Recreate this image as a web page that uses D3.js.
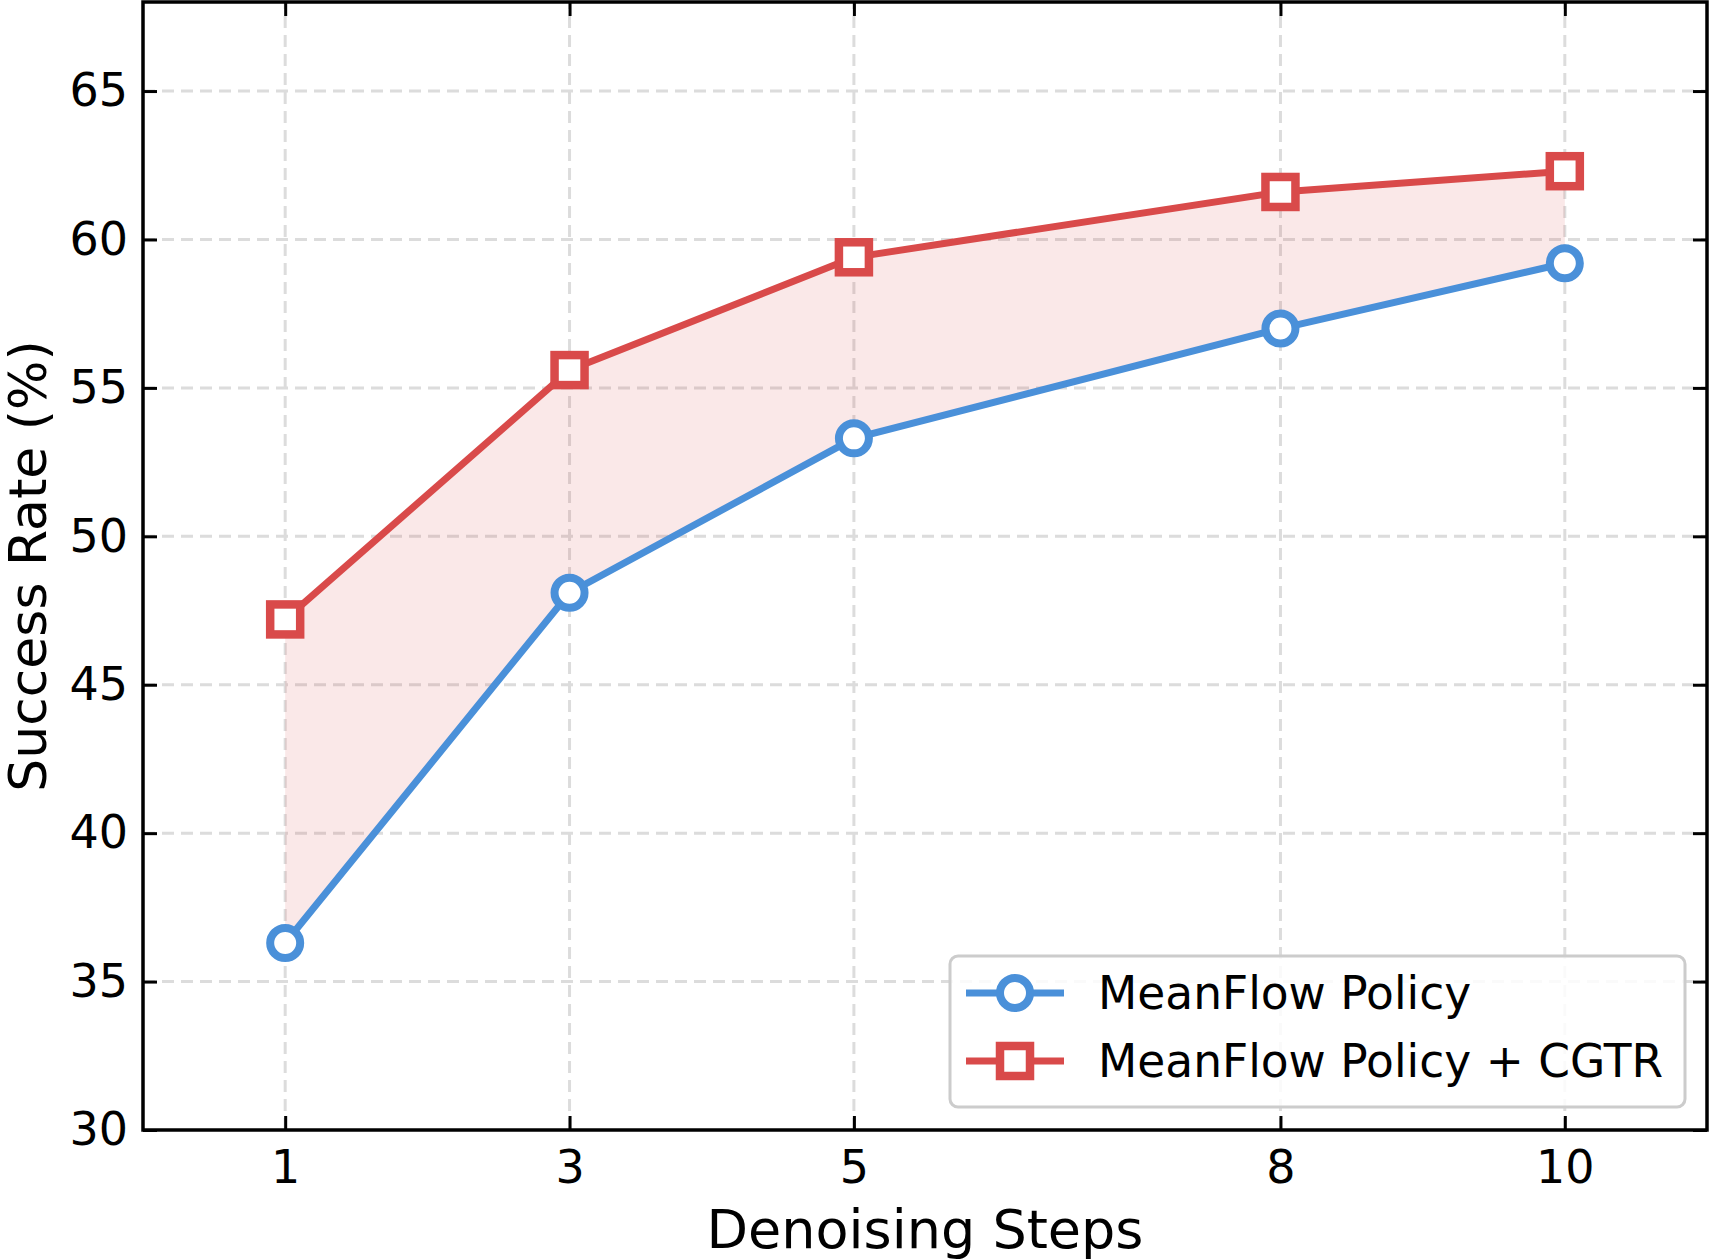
<!DOCTYPE html>
<html>
<head>
<meta charset="utf-8">
<script src="https://cdn.jsdelivr.net/npm/d3@7"></script>
<style>
  body { margin: 0; background: #fff; }
  svg { display: block; font-family: "DejaVu Sans", sans-serif; }
</style>
</head>
<body>
<div id="chart"></div>
<script>
// data
var steps = [1, 3, 5, 8, 10];
var baseRates = [36.3, 48.1, 53.3, 57.0, 59.2];
var cgtrRates = [47.2, 55.6, 59.4, 61.6, 62.3];
var yTicks = [30, 35, 40, 45, 50, 55, 60, 65];
var seriesNames = ['MeanFlow Policy', 'MeanFlow Policy + CGTR'];

var width = 1710, height = 1260;
var margin = {left: 143, right: 3, top: 2, bottom: 130};
var blue = '#4a90d9', red = '#d94a4a';

var svg = d3.select('#chart').append('svg')
  .attr('width', width)
  .attr('height', height);

var x = d3.scaleLinear().domain([0, 11]).range([margin.left, width - margin.right]);
var y = d3.scaleLinear().domain([30, 68]).range([height - margin.bottom, margin.top]);

var rows = steps.map(function(s, i) { return {x: s, a: baseRates[i], b: cgtrRates[i]}; });

// grid
var grid = svg.append('g')
  .attr('stroke', '#dcdcdc')
  .attr('stroke-width', 3)
  .attr('stroke-dasharray', '12,7');
grid.selectAll('.gx').data(steps).enter().append('line')
  .attr('x1', function(d) { return x(d); }).attr('x2', function(d) { return x(d); })
  .attr('y1', y.range()[0]).attr('y2', y.range()[1]);
grid.selectAll('.gy').data(yTicks.slice(1)).enter().append('line')
  .attr('y1', function(d) { return y(d); }).attr('y2', function(d) { return y(d); })
  .attr('x1', x.range()[0]).attr('x2', x.range()[1]);

// shaded gap between the two runs
var area = d3.area()
  .x(function(d) { return x(d.x); })
  .y0(function(d) { return y(d.a); })
  .y1(function(d) { return y(d.b); });
svg.append('path').datum(rows)
  .attr('d', area)
  .attr('fill', red)
  .attr('fill-opacity', 0.13);

function drawSeries(key, color, shape) {
  var line = d3.line()
    .x(function(d) { return x(d.x); })
    .y(function(d) { return y(d[key]); });
  svg.append('path').datum(rows)
    .attr('d', line)
    .attr('fill', 'none')
    .attr('stroke', color)
    .attr('stroke-width', 7);
  var g = svg.append('g');
  if (shape === 'circle') {
    g.selectAll('circle').data(rows).enter().append('circle')
      .attr('cx', function(d) { return x(d.x); })
      .attr('cy', function(d) { return y(d[key]); })
      .attr('r', 15)
      .attr('fill', '#fff')
      .attr('stroke', color)
      .attr('stroke-width', 8);
  } else {
    g.selectAll('rect').data(rows).enter().append('rect')
      .attr('x', function(d) { return x(d.x) - 15; })
      .attr('y', function(d) { return y(d[key]) - 15; })
      .attr('width', 30).attr('height', 30)
      .attr('fill', '#fff')
      .attr('stroke', color)
      .attr('stroke-width', 8.5);
  }
}
drawSeries('a', blue, 'circle');
drawSeries('b', red, 'square');

// axes, ticks pointing inward on all four sides
var tickLen = 14;
var axB = svg.append('g').attr('transform', 'translate(0,' + y.range()[0] + ')')
  .call(d3.axisBottom(x).tickValues(steps).tickSizeInner(-tickLen).tickSizeOuter(0).tickPadding(tickLen + 4));
var axT = svg.append('g').attr('transform', 'translate(0,' + y.range()[1] + ')')
  .call(d3.axisTop(x).tickValues(steps).tickSizeInner(-tickLen).tickSizeOuter(0).tickFormat(''));
var axL = svg.append('g').attr('transform', 'translate(' + x.range()[0] + ',0)')
  .call(d3.axisLeft(y).tickValues(yTicks).tickSizeInner(-tickLen).tickSizeOuter(0).tickPadding(0));
var axR = svg.append('g').attr('transform', 'translate(' + x.range()[1] + ',0)')
  .call(d3.axisRight(y).tickValues(yTicks).tickSizeInner(-tickLen).tickSizeOuter(0).tickFormat(''));

[axB, axT, axL, axR].forEach(function(a) {
  a.select('.domain').remove();
  a.selectAll('.tick line').attr('stroke', '#000').attr('stroke-width', 3);
  a.selectAll('.tick text').attr('fill', '#000').attr('font-size', 46)
    .attr('font-family', '"DejaVu Sans", sans-serif');
});
axB.selectAll('.tick text').attr('dy', '0.75em');
axL.selectAll('.tick text').attr('x', -15);

// frame
svg.append('rect')
  .attr('x', x.range()[0]).attr('y', y.range()[1])
  .attr('width', x.range()[1] - x.range()[0])
  .attr('height', y.range()[0] - y.range()[1])
  .attr('fill', 'none').attr('stroke', '#000').attr('stroke-width', 3.5);

// axis titles
svg.append('text')
  .attr('x', (x.range()[0] + x.range()[1]) / 2)
  .attr('y', 1248)
  .attr('text-anchor', 'middle')
  .attr('font-size', 54)
  .text('Denoising Steps');
svg.append('text')
  .attr('transform', 'translate(46,' + (y.range()[0] + y.range()[1]) / 2 + ') rotate(-90)')
  .attr('text-anchor', 'middle')
  .attr('font-size', 52)
  .text('Success Rate (%)');

// legend
var leg = svg.append('g').attr('transform', 'translate(950,956)');
leg.append('rect')
  .attr('width', 735).attr('height', 151).attr('rx', 8)
  .attr('fill', '#fff').attr('fill-opacity', 0.85)
  .attr('stroke', '#cccccc').attr('stroke-width', 3);
var legItems = [
  {name: seriesNames[0], color: blue, shape: 'circle', dy: 37},
  {name: seriesNames[1], color: red, shape: 'square', dy: 105}
];
legItems.forEach(function(it) {
  var g = leg.append('g').attr('transform', 'translate(0,' + it.dy + ')');
  g.append('line').attr('x1', 16).attr('x2', 114)
    .attr('stroke', it.color).attr('stroke-width', 7);
  if (it.shape === 'circle') {
    g.append('circle').attr('cx', 65).attr('r', 15)
      .attr('fill', '#fff').attr('stroke', it.color).attr('stroke-width', 8);
  } else {
    g.append('rect').attr('x', 50).attr('y', -15).attr('width', 30).attr('height', 30)
      .attr('fill', '#fff').attr('stroke', it.color).attr('stroke-width', 8.5);
  }
  g.append('text').attr('x', 148).attr('dy', '0.36em')
    .attr('font-size', 45.5).text(it.name);
});
</script>
</body>
</html>
